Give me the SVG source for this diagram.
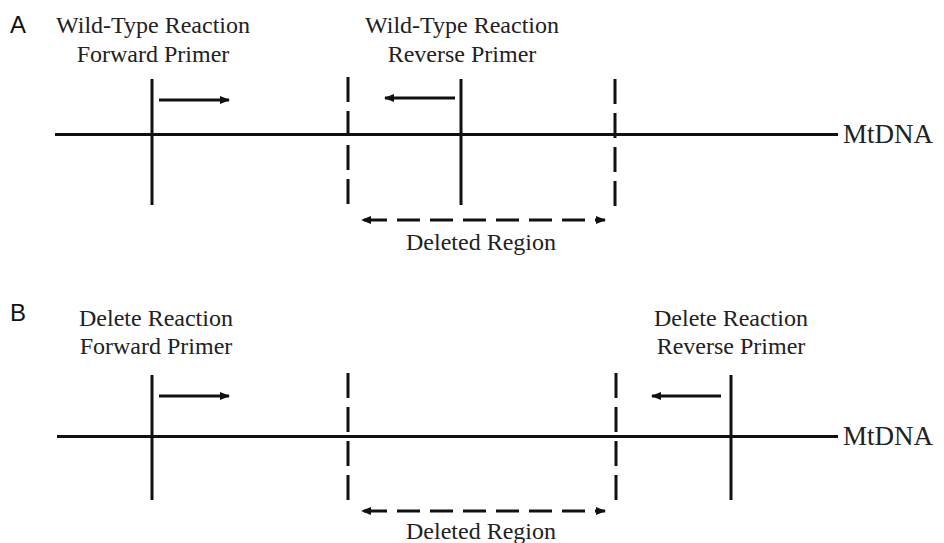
<svg xmlns="http://www.w3.org/2000/svg" width="944" height="543" viewBox="0 0 944 543">
<style>
.t{font-family:"Liberation Serif","Times New Roman",serif;font-size:24px;fill:#222;text-anchor:middle}
.m{font-family:"Liberation Serif","Times New Roman",serif;font-size:27px;fill:#222}
.p{font-family:"Liberation Sans",Arial,sans-serif;font-size:24px;fill:#111}
.ln{stroke:#111;stroke-width:3;fill:none}
.dv{stroke:#111;stroke-width:3;fill:none;stroke-dasharray:25 9}
.dh{stroke:#111;stroke-width:3;fill:none;stroke-dasharray:23 10}
</style>
<defs>
<marker id="ah" markerUnits="userSpaceOnUse" markerWidth="12" markerHeight="10" refX="9" refY="5" orient="auto-start-reverse">
<path d="M0,1 L10,5 L0,9 Z" fill="#111"/>
</marker>
</defs>
<rect width="944" height="543" fill="#fff"/>
<g id="panelA">
<text class="p" x="10" y="33">A</text>
<g id="a-dna"><line class="ln" x1="55" y1="134.5" x2="838" y2="134.5"/><text class="m" x="843" y="143">MtDNA</text></g>
<g id="a-fwd"><text class="t" x="153" y="33">Wild-Type Reaction</text><text class="t" x="153" y="62">Forward Primer</text><line class="ln" x1="152" y1="79" x2="152" y2="205"/></g>
<g id="a-rev"><text class="t" x="462" y="33">Wild-Type Reaction</text><text class="t" x="462" y="62">Reverse Primer</text><line class="ln" x1="461" y1="79" x2="461" y2="205"/></g>
<g id="a-del-left"><line class="dv" x1="348" y1="77" x2="348" y2="204"/></g>
<g id="a-del-right"><line class="dv" x1="615" y1="79" x2="615" y2="206"/></g>
<g id="a-del-label"><text class="t" x="481" y="250">Deleted Region</text></g>
</g>
<g id="panelB">
<text class="p" x="10" y="321">B</text>
<g id="b-dna"><line class="ln" x1="57" y1="436.5" x2="838" y2="436.5"/><text class="m" x="843" y="445">MtDNA</text></g>
<g id="b-fwd"><text class="t" x="156" y="326">Delete Reaction</text><text class="t" x="156" y="354">Forward Primer</text><line class="ln" x1="152" y1="375" x2="152" y2="500"/></g>
<g id="b-rev"><text class="t" x="731" y="326">Delete Reaction</text><text class="t" x="731" y="354">Reverse Primer</text><line class="ln" x1="731" y1="375" x2="731" y2="500"/></g>
<g id="b-del-left"><line class="dv" x1="348" y1="373" x2="348" y2="500"/></g>
<g id="b-del-right"><line class="dv" x1="616" y1="373" x2="616" y2="500"/></g>
<g id="b-del-label"><text class="t" x="481" y="539">Deleted Region</text></g>
</g>
<g id="connectors">
<line class="ln" x1="159" y1="100" x2="229" y2="100" marker-end="url(#ah)"/>
<line class="ln" x1="455" y1="98" x2="385" y2="98" marker-end="url(#ah)"/>
<line class="dh" x1="362" y1="220" x2="605" y2="220" marker-start="url(#ah)" marker-end="url(#ah)" stroke-dashoffset="-2"/>
<line class="ln" x1="159" y1="396" x2="229" y2="396" marker-end="url(#ah)"/>
<line class="ln" x1="721" y1="396" x2="652" y2="396" marker-end="url(#ah)"/>
<line class="dh" x1="362" y1="511" x2="605" y2="511" marker-start="url(#ah)" marker-end="url(#ah)" stroke-dashoffset="-2"/>
</g>
</svg>
